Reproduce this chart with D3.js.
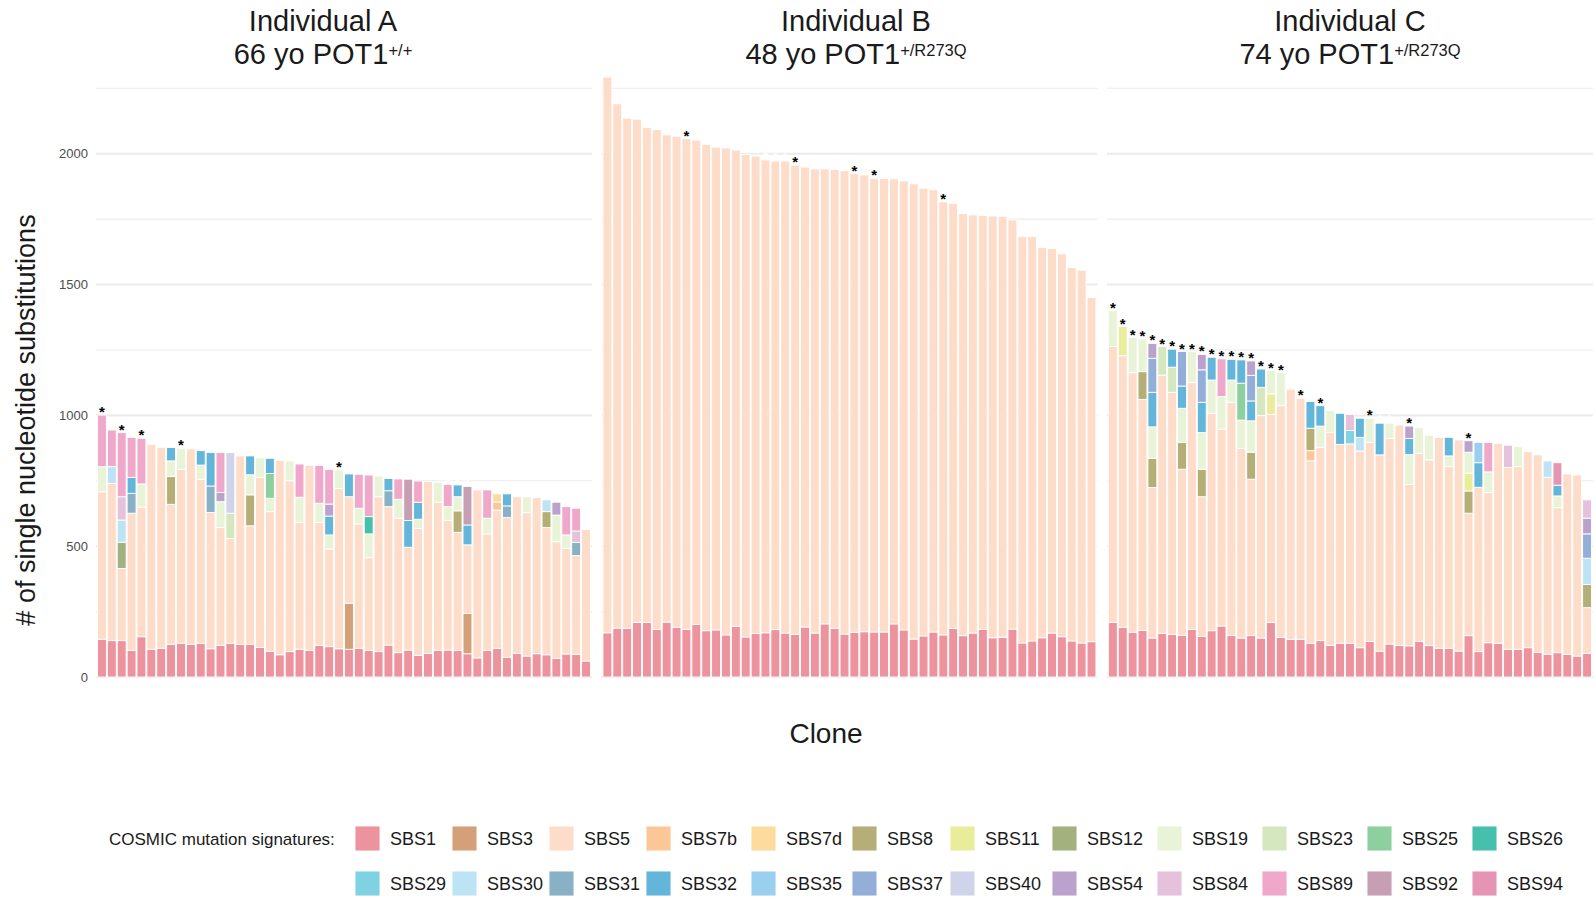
<!DOCTYPE html>
<html><head><meta charset="utf-8">
<script src="https://cdn.jsdelivr.net/npm/d3@7"></script>
<style>body{margin:0;background:#fff;} svg{display:block;font-family:"Liberation Sans",Arial,sans-serif;}</style>
</head><body><svg id="chart" width="1596" height="899"></svg>
<script>
const signatures = ["SBS1","SBS3","SBS5","SBS7b","SBS7d","SBS8","SBS11","SBS12","SBS19","SBS23","SBS25","SBS26",
  "SBS29","SBS30","SBS31","SBS32","SBS35","SBS37","SBS40","SBS54","SBS84","SBS89","SBS92","SBS94"];
const sigColors = ["#EC939D","#D4A078","#FDDDC9","#FCC796","#FDDA9E","#B6AE77","#E9EC9B","#A3B17F","#E9F3D7","#D4E7BF","#8ECF9F","#46BFAD",
  "#7FD2E2","#BDE4F4","#88B1C5","#63B5D9","#9ACFF0","#93AED9","#CFD4EB","#BBA2CD","#E6C1DB","#EFA8CA","#C69FB5","#E395B3"];
const panelTitles = ["Individual A","Individual B","Individual C"];
const panelSubtitles = ["66 yo POT1","48 yo POT1","74 yo POT1"];
const panelGenotypes = ["+/+","+/R273Q","+/R273Q"];
const yTicks = [0,500,1000,1500,2000];
const yMinorTicks = [250,750,1250,1750,2250];

// Individual A clones (signature contributions)
const clonesA = [
 {SBS1:144,SBS5:564,SBS19:96,SBS89:197},
 {SBS1:139,SBS5:601,SBS30:64,SBS89:140},
 {SBS1:139,SBS5:276,SBS12:100,SBS30:85,SBS84:89,SBS89:245},
 {SBS1:101,SBS5:525,SBS31:76,SBS32:61,SBS89:153},
 {SBS1:154,SBS5:495,SBS19:89,SBS89:174},
 {SBS1:106,SBS5:783},
 {SBS1:110,SBS5:768},
 {SBS1:125,SBS5:535,SBS8:106,SBS19:60,SBS32:51},
 {SBS1:129,SBS5:665,SBS19:80},
 {SBS1:125,SBS5:747},
 {SBS1:129,SBS5:627,SBS19:54,SBS32:55},
 {SBS1:108,SBS5:521,SBS31:101,SBS32:128},
 {SBS1:121,SBS5:450,SBS19:99,SBS54:35,SBS89:153},
 {SBS1:129,SBS5:400,SBS23:97,SBS40:232},
 {SBS1:124,SBS5:721},
 {SBS1:125,SBS5:453,SBS8:118,SBS19:77,SBS32:72},
 {SBS1:113,SBS5:649,SBS19:76},
 {SBS1:98,SBS5:534,SBS19:51,SBS25:95,SBS32:58},
 {SBS1:85,SBS5:743},
 {SBS1:97,SBS5:653,SBS19:76},
 {SBS1:106,SBS5:485,SBS19:96,SBS89:127},
 {SBS1:102,SBS5:707},
 {SBS1:121,SBS5:470,SBS19:73,SBS89:145},
 {SBS1:116,SBS5:373,SBS19:54,SBS32:72,SBS54:46,SBS89:133},
 {SBS1:108,SBS5:613,SBS19:70},
 {SBS1:106,SBS3:176,SBS5:407,SBS32:87},
 {SBS1:110,SBS5:475,SBS19:60,SBS89:130},
 {SBS1:101,SBS5:355,SBS19:91,SBS26:66,SBS89:159},
 {SBS1:97,SBS5:592,SBS19:79},
 {SBS1:122,SBS5:529,SBS31:61,SBS32:47},
 {SBS1:93,SBS5:514,SBS19:72,SBS89:78},
 {SBS1:103,SBS5:393,SBS32:102,SBS92:158},
 {SBS1:83,SBS5:485,SBS19:35,SBS32:65,SBS89:81},
 {SBS1:90,SBS5:657},
 {SBS1:102,SBS5:566,SBS19:75},
 {SBS1:103,SBS5:496,SBS19:52,SBS89:85},
 {SBS1:101,SBS5:452,SBS8:82,SBS19:54,SBS32:45},
 {SBS1:89,SBS3:154,SBS5:262,SBS32:76,SBS92:147},
 {SBS1:73,SBS5:642},
 {SBS1:101,SBS5:446,SBS19:60,SBS89:108},
 {SBS1:110,SBS5:528,SBS7b:31,SBS7d:31},
 {SBS1:75,SBS5:535,SBS31:44,SBS32:46},
 {SBS1:90,SBS5:599},
 {SBS1:80,SBS5:548,SBS19:61},
 {SBS1:89,SBS5:597},
 {SBS1:85,SBS5:486,SBS8:61,SBS30:45},
 {SBS1:71,SBS5:446,SBS19:102,SBS54:49},
 {SBS1:88,SBS5:404,SBS19:51,SBS89:108},
 {SBS1:87,SBS5:377,SBS31:50,SBS84:44,SBS89:87},
 {SBS1:61,SBS5:503}
];
const starsA = [0,2,4,8,24];

// Individual B clones
const sbs1B = [169,187,186,209,209,182,210,190,182,201,177,180,161,194,153,166,169,181,168,163,191,168,203,186,164,
  171,173,172,172,203,180,145,157,172,161,186,158,168,182,150,152,183,130,138,150,168,154,138,130,135];
const sbs5B = [2124,2004,1950,1923,1891,1910,1862,1877,1876,1851,1858,1845,1861,1820,1844,1825,1807,1791,1804,1793,
  1758,1774,1739,1754,1771,1753,1746,1734,1733,1701,1716,1740,1711,1690,1655,1624,1613,1598,1582,1612,1609,1564,
  1554,1546,1491,1470,1463,1427,1425,1315];
const starsB = [8,19,25,27,34];

// Individual C clones
const clonesC = [
 {SBS1:209,SBS5:1054,SBS19:137},
 {SBS1:190,SBS5:1038,SBS11:111},
 {SBS1:171,SBS5:992,SBS19:134},
 {SBS1:178,SBS5:883,SBS8:106,SBS19:125},
 {SBS1:149,SBS5:575,SBS8:112,SBS19:120,SBS32:132,SBS37:130,SBS54:57},
 {SBS1:167,SBS5:987,SBS23:109},
 {SBS1:163,SBS5:925,SBS23:96,SBS32:69},
 {SBS1:159,SBS5:635,SBS8:103,SBS19:130,SBS32:85,SBS37:132},
 {SBS1:182,SBS5:943,SBS19:119},
 {SBS1:155,SBS5:534,SBS8:105,SBS19:140,SBS32:116,SBS37:124,SBS54:59},
 {SBS1:177,SBS5:831,SBS19:127,SBS32:87},
 {SBS1:195,SBS5:752,SBS19:125,SBS89:144},
 {SBS1:159,SBS5:891,SBS19:85,SBS32:79},
 {SBS1:149,SBS5:725,SBS19:108,SBS25:141,SBS32:89},
 {SBS1:159,SBS5:597,SBS8:103,SBS19:120,SBS32:76,SBS37:98,SBS54:55},
 {SBS1:149,SBS5:850,SBS23:108,SBS32:70},
 {SBS1:208,SBS5:796,SBS11:78,SBS19:89},
 {SBS1:152,SBS5:885,SBS19:126},
 {SBS1:144,SBS5:956},
 {SBS1:144,SBS5:921},
 {SBS1:129,SBS5:697,SBS7b:39,SBS8:86,SBS32:102},
 {SBS1:139,SBS5:739,SBS19:81,SBS32:78},
 {SBS1:121,SBS5:813,SBS19:84},
 {SBS1:129,SBS5:760,SBS32:119},
 {SBS1:129,SBS5:762,SBS29:51,SBS84:62},
 {SBS1:112,SBS5:752,SBS30:52,SBS32:73},
 {SBS1:136,SBS5:761,SBS19:92},
 {SBS1:98,SBS5:751,SBS32:121},
 {SBS1:126,SBS5:786,SBS19:58},
 {SBS1:121,SBS5:842},
 {SBS1:119,SBS5:617,SBS19:114,SBS32:62,SBS54:47},
 {SBS1:136,SBS5:719,SBS19:98},
 {SBS1:120,SBS5:710,SBS19:94},
 {SBS1:110,SBS5:806},
 {SBS1:110,SBS5:694,SBS19:41,SBS32:71},
 {SBS1:99,SBS5:807},
 {SBS1:158,SBS5:468,SBS8:85,SBS11:68,SBS19:80,SBS54:44},
 {SBS1:97,SBS5:628,SBS32:94,SBS35:78},
 {SBS1:131,SBS5:574,SBS19:79,SBS89:112},
 {SBS1:129,SBS5:764},
 {SBS1:106,SBS5:695,SBS84:85},
 {SBS1:106,SBS5:698,SBS19:76},
 {SBS1:112,SBS5:749},
 {SBS1:94,SBS5:755},
 {SBS1:87,SBS5:676,SBS30:63},
 {SBS1:93,SBS5:554,SBS19:45,SBS32:41,SBS94:86},
 {SBS1:87,SBS5:689},
 {SBS1:80,SBS5:692},
 {SBS1:90,SBS5:175,SBS8:89,SBS30:100,SBS37:93,SBS54:60,SBS84:70}
];
const starsC = [0,1,2,3,4,5,6,7,8,9,10,11,12,13,14,15,16,17,19,21,26,30,36];

// ---------- drawing ----------
const svg = d3.select("#chart");
const color = d3.scaleOrdinal().domain(signatures).range(sigColors);
const panels = [
  {rows: clonesA, stars: starsA},
  {rows: sbs1B.map((v,i)=>({SBS1:v, SBS5:sbs5B[i]})), stars: starsB},
  {rows: clonesC, stars: starsC}
];
const plotL = 96, plotR = 1593, gap = 9.5;
const units = panels.map(p => p.rows.length + 0.2);
const step = (plotR - plotL - gap*(panels.length-1)) / d3.sum(units);
const y = d3.scaleLinear().domain([0,2000]).range([677,153.7]);
const titleX = [323, 856, 1350];

let cursor = plotL;
panels.forEach((p, pi) => {
  const x0 = cursor, x1 = cursor + units[pi]*step;
  cursor = x1 + gap;
  const x = d3.scaleBand().domain(d3.range(p.rows.length)).range([x0,x1]).paddingInner(0.1).paddingOuter(0.15);
  const g = svg.append("g");
  // gridlines
  g.selectAll("line.minor").data(yMinorTicks).join("line")
    .attr("x1",x0).attr("x2",x1).attr("y1",d=>y(d)).attr("y2",d=>y(d))
    .attr("stroke","#ebebeb").attr("stroke-width",1.1);
  g.selectAll("line.major").data(yTicks).join("line")
    .attr("x1",x0).attr("x2",x1).attr("y1",d=>y(d)).attr("y2",d=>y(d))
    .attr("stroke","#ebebeb").attr("stroke-width",2.1);
  // stacked bars
  const stacked = d3.stack().keys(signatures).value((d,k)=>d[k]||0)(p.rows);
  stacked.forEach(series => {
    g.append("g").attr("fill", color(series.key))
      .selectAll("rect").data(series.map((s,i)=>({s,i})).filter(o=>o.s[1]>o.s[0])).join("rect")
      .attr("x", o=>x(o.i)).attr("width", x.bandwidth())
      .attr("y", o=>y(o.s[1])).attr("height", o=>y(o.s[0])-y(o.s[1]))
      .attr("stroke","#fff").attr("stroke-width",0.9);
  });
  // stars
  const totals = p.rows.map(r => d3.sum(signatures, k => r[k]||0));
  g.selectAll("text.star").data(totals).join("text")
    .attr("x",(d,i)=>x(i)+x.bandwidth()/2).attr("y",d=>y(d)+2)
    .attr("text-anchor","middle").attr("font-size",15).attr("font-weight","bold")
    .attr("fill",(d,i)=>p.stars.includes(i) ? "#000" : "#fff")
    .text("*");
  // titles
  const t = svg.append("g").attr("fill","#1a1a1a").attr("font-size",29).attr("text-anchor","middle");
  t.append("text").attr("x",titleX[pi]).attr("y",31).text(panelTitles[pi]);
  const t2 = t.append("text").attr("x",titleX[pi]).attr("y",64);
  t2.append("tspan").text(panelSubtitles[pi]);
  t2.append("tspan").attr("font-size",16.5).attr("dy",-8).text(panelGenotypes[pi]);
});

// y axis
const yAxis = d3.axisLeft(y).tickValues(yTicks).tickFormat(d3.format("d")).tickSize(0).tickPadding(8);
const ya = svg.append("g").attr("transform",`translate(${plotL},0)`).call(yAxis);
ya.select(".domain").remove();
ya.selectAll("text").attr("font-size",13).attr("fill","#4d4d4d").attr("font-family","Liberation Sans, Arial, sans-serif");

// axis titles
svg.append("text").attr("transform","translate(35,420) rotate(-90)").attr("text-anchor","middle")
  .attr("font-size",27).attr("fill","#1a1a1a").text("# of single nucleotide substitutions");
svg.append("text").attr("x",826).attr("y",743).attr("text-anchor","middle")
  .attr("font-size",28).attr("fill","#1a1a1a").text("Clone");

// legend
const legCols = [355,452,549,646,751,852,950,1052,1157,1262,1367,1472];
const legRows = [826,871];
const keySize = 25;
const lg = svg.append("g");
lg.append("text").attr("x",109).attr("y",legRows[0]+keySize/2+6).attr("font-size",17).attr("fill","#1a1a1a")
  .text("COSMIC mutation signatures:");
const items = lg.selectAll("g.item").data(signatures).join("g")
  .attr("transform",(d,i)=>`translate(${legCols[i%12]},${legRows[Math.floor(i/12)]})`);
items.append("rect").attr("width",keySize).attr("height",keySize).attr("fill",d=>color(d))
  .attr("stroke","#fff").attr("stroke-width",0.9);
items.append("text").attr("x",keySize+10).attr("y",keySize/2+6.5).attr("font-size",18).attr("fill","#1a1a1a").text(d=>d);
</script></body></html>
